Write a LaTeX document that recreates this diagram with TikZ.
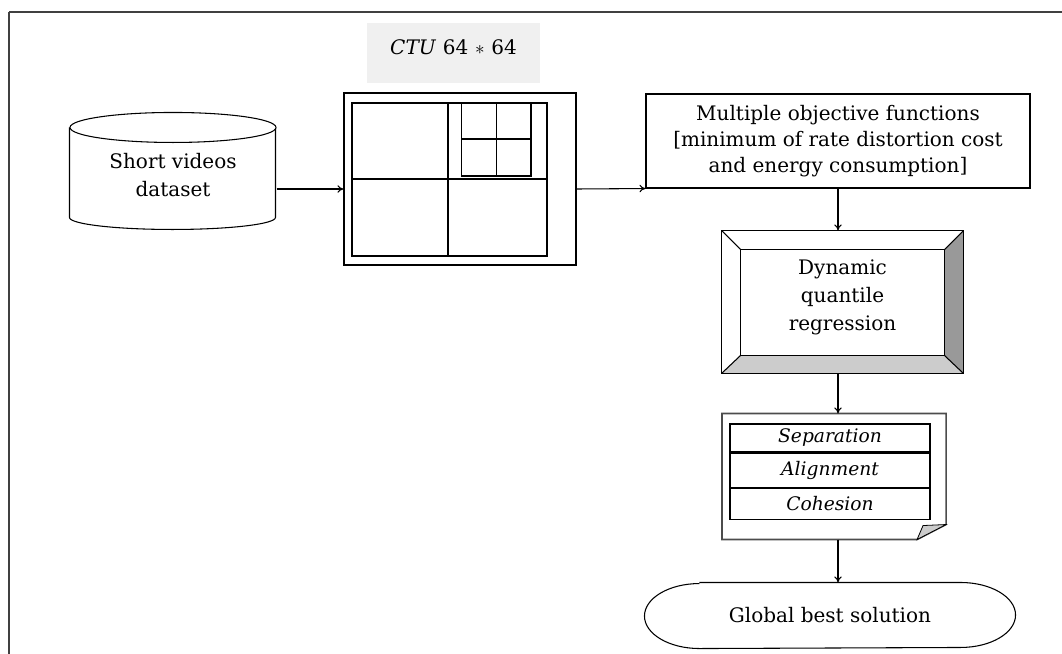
\documentclass[tikz,border=0pt]{standalone}
\usepackage{fontspec}
\setmainfont{DejaVu Serif}
\usetikzlibrary{arrows.meta}
\newlength\unitpx
\setlength\unitpx{0.75pt}
\definecolor{labelG}{RGB}{240,240,240}
\definecolor{bevD}{RGB}{153,153,153}
\definecolor{bevL}{RGB}{204,204,204}

\begin{document}
\begin{tikzpicture}[x=0.75pt,y=-0.75pt,>={To[length=1.6mm,width=2mm]},line width=0.8pt,
  every node/.style={font=\fontsize{15}{21}\selectfont,inner sep=0pt,align=center},
  blk/.style={minimum width=#1\unitpx},
  flow/.style={->}]
\useasboundingbox (0,0) rectangle (1062,653);
\draw[line width=1.1pt,black!75] (9,12) -- (1070,12) (9,12) -- (9,660);
% nodes
\node[fill=labelG,text width=173\unitpx,text height=31\unitpx,text depth=29\unitpx] (ctulabel) at (453.5,53) {\textit{CTU} 64 $\ast$ 64};
\node[blk=206,minimum height=117\unitpx] (data) at (173,171.5) {};
\node[blk=232,minimum height=172\unitpx,draw] (ctu) at (460,179) {};
\node[blk=384,minimum height=94\unitpx,draw,font=\fontsize{15}{19.3}\selectfont] (mobj) at (838,141) {Multiple objective functions\\{}[minimum of rate distortion cost\\and energy consumption]};
\node[blk=241,minimum height=142\unitpx] (dqr) at (842.5,302) {};
\node[blk=223,minimum height=125\unitpx] (boid) at (834,476.5) {};
\node[blk=370,minimum height=65\unitpx] (gbs) at (830,615.5) {Global best solution};
% cylinder
\draw (data.north west) ++(0,15) -- ++(0,90) arc[start angle=180,end angle=0,x radius=103,y radius=12] -- ++(0,-90);
\draw[fill=white] ([shift={(0,15)}]data.north) ellipse[x radius=103,y radius=15];
\node at ([shift={(0,3.5)}]data.center) {Short videos\\dataset};
% quadtree
\begin{scope}[shift={(ctu.center)}]
\draw (-108,-76) rectangle (87,77);
\draw (-12,-76) -- (-12,77) (-108,0) -- (87,0);
\draw (1.7,-76) rectangle (71,-3);
\draw (36.7,-76) -- (36.7,-3) (1.7,-40) -- (71,-40);
\end{scope}
% bevel
\fill[bevD] (dqr.north east) -- (dqr.south east) -- ([shift={(-19,-18)}]dqr.south east) -- ([shift={(-19,19)}]dqr.north east) -- cycle;
\fill[bevL] (dqr.south west) -- (dqr.south east) -- ([shift={(-19,-18)}]dqr.south east) -- ([shift={(19,-18)}]dqr.south west) -- cycle;
\draw (dqr.north west) rectangle (dqr.south east);
\draw ([shift={(19,19)}]dqr.north west) rectangle ([shift={(-19,-18)}]dqr.south east);
\draw (dqr.north west) -- ++(19,19) (dqr.north east) -- ++(-19,19)
      (dqr.south west) -- ++(19,-18) (dqr.south east) -- ++(-19,-18);
\node at ([shift={(0,-5)}]dqr.center) {Dynamic\\quantile\\regression};
% page
\draw[line width=1.2pt,black!70] (boid.north west) -- (boid.north east) -- ([shift={(0,-15)}]boid.south east) -- ([shift={(-29,0)}]boid.south east) -- (boid.south west) -- cycle;
\draw[fill=bevL,line width=0.6pt] ([shift={(0,-15)}]boid.south east) -- ([shift={(-23,-14)}]boid.south east) -- ([shift={(-29,0)}]boid.south east) -- cycle;
\node[blk=200,minimum height=28\unitpx,draw,anchor=north,font=\fontsize{14}{17}\itshape] (sep) at ([shift={(-4,10)}]boid.north) {Separation};
\node[blk=200,minimum height=34\unitpx,draw,anchor=north,font=\fontsize{14}{17}\itshape] (ali) at (sep.south) {Alignment};
\node[blk=200,minimum height=31\unitpx,draw,anchor=north,font=\fontsize{14}{17}\itshape] (coh) at (ali.south) {Cohesion};
% terminal
\draw ([shift={(55,0)}]gbs.north west) -- ([shift={(-55,0)}]gbs.north east)
  arc[start angle=-90,end angle=90,x radius=55,y radius=32.5]
  -- ([shift={(55,0)}]gbs.south west)
  arc[start angle=90,end angle=270,x radius=55,y radius=32.5];
% connectors
\coordinate (lvl) at (0,189);
\draw[flow] (data.east |- lvl) -- (ctu.west |- lvl);
\draw[flow] (ctu.east |- lvl) -- (mobj.south west);
\draw[flow] (mobj.south) -- (mobj.south |- dqr.north);
\draw[flow] (mobj.south |- dqr.south) -- (mobj.south |- boid.north);
\draw[flow] (mobj.south |- boid.south) -- (mobj.south |- gbs.north);
\end{tikzpicture}
\end{document}
